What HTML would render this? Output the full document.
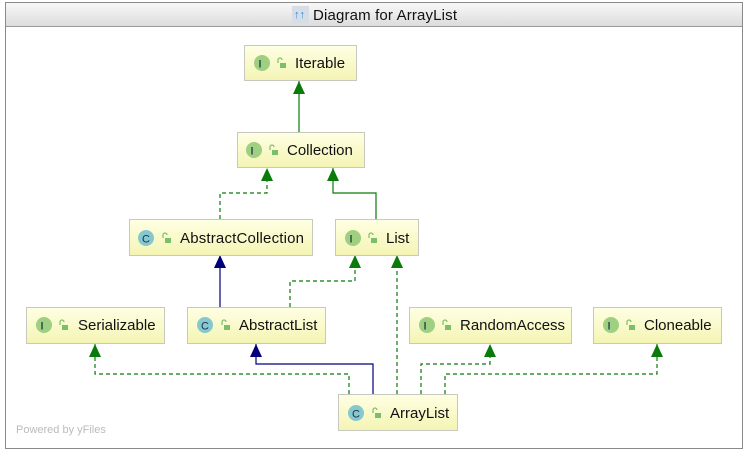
<!DOCTYPE html>
<html><head><meta charset="utf-8"><style>
body{margin:0;width:748px;height:452px;background:#fff;overflow:hidden;font-family:"Liberation Sans",sans-serif}
</style></head><body>
<svg width="748" height="452" xmlns="http://www.w3.org/2000/svg" font-family="Liberation Sans, sans-serif">
<defs>
<linearGradient id="tb" x1="0" y1="0" x2="0" y2="1"><stop offset="0" stop-color="#f8f8f8"/><stop offset="1" stop-color="#dcdcdc"/></linearGradient>
<linearGradient id="nb" x1="0" y1="0" x2="0" y2="1"><stop offset="0" stop-color="#ffffe4"/><stop offset="1" stop-color="#f4f4b4"/></linearGradient>
<g id="lk"><path d="M-3 -1V-4a2 2 0 0 1 4 0" fill="none" stroke="#7cbf6a" stroke-width="1.2"/><rect x="-1" y="-1" width="6" height="5" fill="#7cbf6a"/></g>
</defs>
<rect x="5.5" y="2.5" width="737" height="446" fill="#fff" stroke="#8a8a8a"/>
<rect x="6" y="3" width="736" height="23" fill="url(#tb)"/>
<line x1="6" y1="26.5" x2="742" y2="26.5" stroke="#9a9a9a"/>
<rect x="292" y="6" width="17" height="17" fill="#d6dde6"/>
<text x="294" y="18" font-size="11" fill="#2a8ad8">↑↑</text>
<text x="313" y="20" font-size="15" fill="#111" textLength="144">Diagram for ArrayList</text>
<text x="16" y="433" font-size="11" fill="#bbb">Powered by yFiles</text>

<g fill="none" stroke-width="1.2">
<path d="M299 132V81" stroke="#0a7a0a"/>
<path d="M220 219V193H267V168" stroke="#0a7a0a" stroke-dasharray="4,3"/>
<path d="M376 219V193H333V168" stroke="#0a7a0a"/>
<path d="M220 307V255" stroke="#00007a"/>
<path d="M290 307V281H355V255" stroke="#0a7a0a" stroke-dasharray="4,3"/>
<path d="M397 394V255" stroke="#0a7a0a" stroke-dasharray="4,3"/>
<path d="M349 394V374H95V344" stroke="#0a7a0a" stroke-dasharray="4,3"/>
<path d="M373 394V364H256V344" stroke="#00007a"/>
<path d="M421 394V364H490V344" stroke="#0a7a0a" stroke-dasharray="4,3"/>
<path d="M445 394V374H657V344" stroke="#0a7a0a" stroke-dasharray="4,3"/>
</g>
<g fill="#0a7a0a">
<path d="M299 81l-6 13h12z"/><path d="M267 168l-6 13h12z"/><path d="M333 168l-6 13h12z"/>
<path d="M355 255l-6 13h12z"/><path d="M397 255l-6 13h12z"/>
<path d="M95 344l-6 13h12z"/><path d="M490 344l-6 13h12z"/><path d="M657 344l-6 13h12z"/>
</g>
<g fill="#00007a"><path d="M220 255l-6 13h12z"/><path d="M256 344l-6 13h12z"/></g>

<g font-size="15" fill="#111">
<g>
<rect x="244.5" y="45.5" width="112" height="35" fill="url(#nb)" stroke="#c8c8c0"/>
<circle cx="262" cy="63" r="8" fill="#9fcf80"/><text x="258.5" y="67.5" font-size="11" font-weight="bold" fill="#355">I</text>
<use href="#lk" x="281" y="64"/>
<text x="295" y="68">Iterable</text>
</g>
<g>
<rect x="237.5" y="132.5" width="127" height="35" fill="url(#nb)" stroke="#c8c8c0"/>
<circle cx="254" cy="150" r="8" fill="#9fcf80"/><text x="250.5" y="154.5" font-size="11" font-weight="bold" fill="#355">I</text>
<use href="#lk" x="273" y="151"/>
<text x="287" y="155">Collection</text>
</g>
<g>
<rect x="129.5" y="219.5" width="183" height="36" fill="url(#nb)" stroke="#c8c8c0"/>
<circle cx="146" cy="238" r="8" fill="#86c8d0"/><text x="142" y="242.5" font-size="11" fill="#234">C</text>
<use href="#lk" x="166" y="239"/>
<text x="180" y="243" textLength="124">AbstractCollection</text>
</g>
<g>
<rect x="335.5" y="219.5" width="83" height="36" fill="url(#nb)" stroke="#c8c8c0"/>
<circle cx="353" cy="238" r="8" fill="#9fcf80"/><text x="349.5" y="242.5" font-size="11" font-weight="bold" fill="#355">I</text>
<use href="#lk" x="372" y="239"/>
<text x="386" y="243">List</text>
</g>
<g>
<rect x="26.5" y="307.5" width="138" height="36" fill="url(#nb)" stroke="#c8c8c0"/>
<circle cx="44" cy="325" r="8" fill="#9fcf80"/><text x="40.5" y="329.5" font-size="11" font-weight="bold" fill="#355">I</text>
<use href="#lk" x="63" y="326"/>
<text x="78" y="330">Serializable</text>
</g>
<g>
<rect x="187.5" y="307.5" width="138" height="36" fill="url(#nb)" stroke="#c8c8c0"/>
<circle cx="205" cy="325" r="8" fill="#86c8d0"/><text x="201" y="329.5" font-size="11" fill="#234">C</text>
<use href="#lk" x="225" y="326"/>
<text x="239" y="330">AbstractList</text>
</g>
<g>
<rect x="409.5" y="307.5" width="162" height="36" fill="url(#nb)" stroke="#c8c8c0"/>
<circle cx="427" cy="325" r="8" fill="#9fcf80"/><text x="423.5" y="329.5" font-size="11" font-weight="bold" fill="#355">I</text>
<use href="#lk" x="446" y="326"/>
<text x="460" y="330">RandomAccess</text>
</g>
<g>
<rect x="593.5" y="307.5" width="128" height="36" fill="url(#nb)" stroke="#c8c8c0"/>
<circle cx="611" cy="325" r="8" fill="#9fcf80"/><text x="607.5" y="329.5" font-size="11" font-weight="bold" fill="#355">I</text>
<use href="#lk" x="630" y="326"/>
<text x="644" y="330">Cloneable</text>
</g>
<g>
<rect x="338.5" y="394.5" width="119" height="36" fill="url(#nb)" stroke="#c8c8c0"/>
<circle cx="356" cy="413" r="8" fill="#86c8d0"/><text x="352" y="417.5" font-size="11" fill="#234">C</text>
<use href="#lk" x="376" y="414"/>
<text x="390" y="418">ArrayList</text>
</g>
</g>
</svg>
</body></html>
